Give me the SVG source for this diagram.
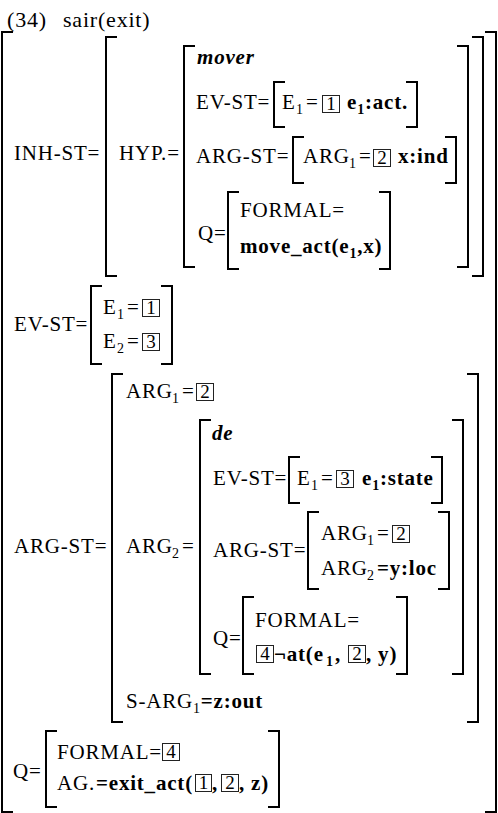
<svg xmlns="http://www.w3.org/2000/svg" width="498" height="813" viewBox="0 0 498 813">
<style>
text{font-family:"Liberation Serif","Times New Roman",serif;font-size:21px;letter-spacing:0.8px;fill:#000}
.b{font-weight:bold}
.bi{font-weight:bold;font-style:italic}
.s{font-size:14px}
.h{font-size:22px}
.n{font-size:19px;letter-spacing:0px;text-anchor:middle}
.br{fill:none;stroke:#000;stroke-width:2}
.bx{fill:none;stroke:#222;stroke-width:1}
</style>
<rect width="498" height="813" fill="#fff"/>

<g id="title">
<text class="h" x="7" y="27">(34)<tspan x="63">sair(exit)</tspan></text>
</g>

<g id="avm">
<path class="br" d="M13 32H2V812H13"/>
<path class="br" d="M485 32H496V812H485"/>

<g id="inh-st">
<text x="14" y="160">INH-ST=</text>
<path class="br" d="M117 37H106V276H117"/>
<path class="br" d="M472 37H483V276H472"/>
<text x="119" y="160">HYP.=</text>
<g id="hyp">
<path class="br" d="M195 46H184V267H195"/>
<path class="br" d="M457 46H468V267H457"/>
<text class="bi" x="197" y="64">mover</text>
<g id="hyp-ev-st">
<text x="196" y="109">EV-ST=</text>
<path class="br" d="M285 82H274V127H285"/>
<path class="br" d="M406 82H417V127H406"/>
<text x="282" y="109">E<tspan class="s" x="296" dy="5">1</tspan><tspan x="306" dy="-5">=</tspan></text>
<rect class="bx" x="322.5" y="95.5" width="17" height="17"/><text class="n" x="331" y="110">1</text>
<text class="b" x="347" y="109">e<tspan class="s" dy="5">1</tspan><tspan dy="-5">:act.</tspan></text>
</g>
<g id="hyp-arg-st">
<text x="196" y="163">ARG-ST=</text>
<path class="br" d="M304 137H293V183H304"/>
<path class="br" d="M445 137H456V183H445"/>
<text x="303" y="163">ARG<tspan class="s" x="349" dy="5">1</tspan><tspan x="359" dy="-5">=</tspan></text>
<rect class="bx" x="373.5" y="149.5" width="17" height="17"/><text class="n" x="382" y="164">2</text>
<text class="b" x="398" y="163">x:ind</text>
</g>
<g id="hyp-q">
<text x="198" y="240">Q=</text>
<path class="br" d="M239 192H228V269H239"/>
<path class="br" d="M379 192H390V269H379"/>
<text x="240" y="217">FORMAL=</text>
<text class="b" x="240" y="253">move_act(e<tspan class="s" dy="5">1</tspan><tspan dy="-5">,x)</tspan></text>
</g>
</g>
</g>

<g id="ev-st">
<text x="14" y="331">EV-ST=</text>
<path class="br" d="M102 286H91V364H102"/>
<path class="br" d="M161 286H172V364H161"/>
<text x="103" y="314">E<tspan class="s" x="117" dy="5">1</tspan><tspan x="127" dy="-5">=</tspan></text>
<rect class="bx" x="142.5" y="299.5" width="17" height="17"/><text class="n" x="151" y="314">1</text>
<text x="103" y="348">E<tspan class="s" x="117" dy="5">2</tspan><tspan x="127" dy="-5">=</tspan></text>
<rect class="bx" x="142.5" y="333.5" width="17" height="17"/><text class="n" x="151" y="348">3</text>
</g>

<g id="arg-st">
<text x="14" y="553">ARG-ST=</text>
<path class="br" d="M123 374H112V722H123"/>
<path class="br" d="M467 374H478V722H467"/>
<g id="arg-st-arg1">
<text x="126" y="398">ARG<tspan class="s" x="172" dy="5">1</tspan><tspan x="182" dy="-5">=</tspan></text>
<rect class="bx" x="196.5" y="383.5" width="17" height="17"/><text class="n" x="205" y="398">2</text>
</g>
<g id="arg-st-arg2">
<text x="126" y="553">ARG<tspan class="s" x="172" dy="5">2</tspan><tspan x="182" dy="-5">=</tspan></text>
<path class="br" d="M211 420H200V674H211"/>
<path class="br" d="M452 420H463V674H452"/>
<text class="bi" x="212" y="440">de</text>
<g id="de-ev-st">
<text x="213" y="485">EV-ST=</text>
<path class="br" d="M300 457H289V503H300"/>
<path class="br" d="M431 457H442V503H431"/>
<text x="297" y="485">E<tspan class="s" x="311" dy="5">1</tspan><tspan x="321" dy="-5">=</tspan></text>
<rect class="bx" x="336.5" y="470.5" width="17" height="17"/><text class="n" x="345" y="485">3</text>
<text class="b" x="362" y="485">e<tspan class="s" dy="5">1</tspan><tspan dy="-5">:state</tspan></text>
</g>
<g id="de-arg-st">
<text x="213" y="557">ARG-ST=</text>
<path class="br" d="M319 512H308V589H319"/>
<path class="br" d="M438 512H449V589H438"/>
<text x="321" y="540">ARG<tspan class="s" x="367" dy="5">1</tspan><tspan x="377" dy="-5">=</tspan></text>
<rect class="bx" x="392.5" y="525.5" width="17" height="17"/><text class="n" x="401" y="540">2</text>
<text x="321" y="575">ARG<tspan class="s" x="367" dy="5">2</tspan><tspan class="b" x="377" dy="-5">=y:loc</tspan></text>
</g>
<g id="de-q">
<text x="213" y="645">Q=</text>
<path class="br" d="M254 597H243V674H254"/>
<path class="br" d="M396 597H407V674H396"/>
<text x="255" y="627">FORMAL=</text>
<rect class="bx" x="256.5" y="645.5" width="17" height="17"/><text class="n" x="265" y="660">4</text>
<text class="b" x="274" y="661">¬at(e<tspan class="s" x="326" dy="5">1</tspan><tspan x="335" dy="-5">,</tspan></text>
<rect class="bx" x="348.5" y="645.5" width="17" height="17"/><text class="n" x="357" y="660">2</text>
<text class="b" x="366" y="661">, y)</text>
</g>
</g>
<g id="s-arg1">
<text x="126" y="708">S-ARG<tspan class="s" dy="5">1</tspan><tspan class="b" dy="-5">=z:out</tspan></text>
</g>
</g>

<g id="q">
<text x="13" y="778">Q=</text>
<path class="br" d="M57 731H46V807H57"/>
<path class="br" d="M268 731H279V807H268"/>
<text x="57" y="759">FORMAL=</text>
<rect class="bx" x="162.5" y="743.5" width="17" height="17"/><text class="n" x="171" y="758">4</text>
<text x="57" y="790">AG.<tspan class="b" x="96">=exit_act(</tspan></text>
<rect class="bx" x="195.5" y="774.5" width="16" height="17"/><text class="n" x="203.5" y="789">1</text>
<text class="b" x="212" y="790">,</text>
<rect class="bx" x="221.5" y="774.5" width="17" height="17"/><text class="n" x="230" y="789">2</text>
<text class="b" x="239" y="790">, z)</text>
</g>
</g>
</svg>
